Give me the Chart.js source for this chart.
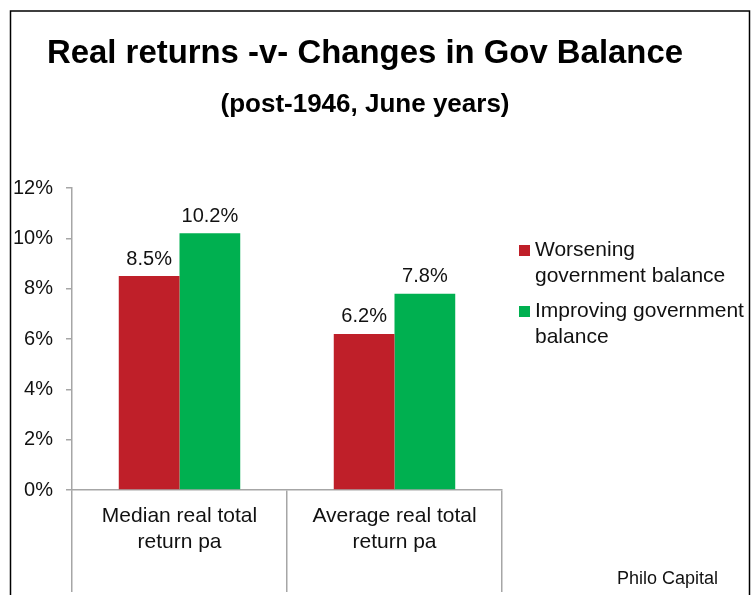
<!DOCTYPE html>
<html>
<head>
<meta charset="utf-8">
<script src="https://cdn.jsdelivr.net/npm/chart.js@4"></script>
<style>
    html, body { margin: 0; padding: 0; background: #fff; }
    #wrap { width: 752px; height: 595px; }
</style>
</head>
<body>
<div id="wrap"><canvas id="chart" width="752" height="595"></canvas></div>
<script>
"use strict";

var categories = [["Median real total", "return pa"], ["Average real total", "return pa"]];
var seriesNames = ["Worsening government balance", "Improving government balance"];
var legendLines = [["Worsening", "government balance"], ["Improving government", "balance"]];
var worsening = [8.5, 6.2];
var improving = [10.2, 7.8];
var yTicks = [0, 2, 4, 6, 8, 10, 12];
var titleText = "Real returns -v- Changes in Gov Balance";
var subtitleText = "(post-1946, June years)";
var sourceText = "Philo Capital";

var RED = "#BF1F29";
var GREEN = "#00B050";
var AXIS_COLOR = "#a6a6a6";
var TEXT_COLOR = "#111111";
var FONT = "'Liberation Sans', Arial, sans-serif";

var framePlugin = {
    id: "frame",
    beforeDraw: function(chart) {
        var ctx = chart.ctx;
        ctx.save();
        ctx.strokeStyle = "#000";
        ctx.lineWidth = 1.5;
        ctx.beginPath();
        ctx.moveTo(10.5, 595);
        ctx.lineTo(10.5, 11);
        ctx.lineTo(749.5, 11);
        ctx.lineTo(749.5, 595);
        ctx.stroke();

        ctx.fillStyle = "#000";
        ctx.textAlign = "center";
        ctx.textBaseline = "alphabetic";
        ctx.font = "bold 34px " + FONT;
        ctx.fillText(titleText, 365, 63, 636);
        ctx.font = "bold 26px " + FONT;
        ctx.fillText(subtitleText, 365, 112, 318);

        ctx.fillStyle = TEXT_COLOR;
        ctx.textAlign = "left";
        ctx.font = "18px " + FONT;
        ctx.fillText(sourceText, 617, 584);
        ctx.restore();
    }
};

var valueLabelPlugin = {
    id: "valueLabels",
    afterDatasetsDraw: function(chart) {
        var ctx = chart.ctx;
        ctx.save();
        ctx.fillStyle = TEXT_COLOR;
        ctx.font = "20px " + FONT;
        ctx.textAlign = "center";
        ctx.textBaseline = "bottom";
        chart.data.datasets.forEach(function(ds, i) {
            var meta = chart.getDatasetMeta(i);
            meta.data.forEach(function(bar, j) {
                ctx.fillText(ds.data[j].toFixed(1) + "%", bar.x, bar.y - 7);
            });
        });
        ctx.restore();
    }
};

var legendPlugin = {
    id: "sideLegend",
    afterDraw: function(chart) {
        var ctx = chart.ctx;
        var tops = [250, 311];
        var lineHeight = 26;
        ctx.save();
        ctx.font = "21px " + FONT;
        ctx.textBaseline = "middle";
        ctx.textAlign = "left";
        chart.data.datasets.forEach(function(ds, i) {
            ctx.fillStyle = ds.backgroundColor;
            ctx.fillRect(519, tops[i] - 5, 11, 11);
            ctx.fillStyle = TEXT_COLOR;
            legendLines[i].forEach(function(line, k) {
                ctx.fillText(line, 535, tops[i] + k * lineHeight);
            });
        });
        ctx.restore();
    }
};

var chart = new Chart(document.getElementById("chart"), {
    type: "bar",
    data: {
        labels: categories,
        datasets: [{
            label: seriesNames[0],
            data: worsening,
            backgroundColor: RED,
            borderWidth: 0
        }, {
            label: seriesNames[1],
            data: improving,
            backgroundColor: GREEN,
            borderWidth: 0
        }]
    },
    options: {
        responsive: false,
        animation: false,
        devicePixelRatio: 1,
        categoryPercentage: 0.565,
        barPercentage: 1,
        layout: {
            padding: { left: 0, top: 188, right: 250, bottom: 0 }
        },
        plugins: {
            legend: { display: false },
            title: { display: false },
            tooltip: { enabled: false }
        },
        scales: {
            x: {
                offset: true,
                grid: {
                    display: true,
                    offset: true,
                    drawOnChartArea: false,
                    drawTicks: true,
                    tickLength: 102,
                    color: AXIS_COLOR,
                    lineWidth: 1.5
                },
                border: { display: true, color: AXIS_COLOR, width: 1.5 },
                ticks: {
                    color: TEXT_COLOR,
                    font: { family: FONT, size: 21, lineHeight: 1.24 },
                    padding: -89,
                    maxRotation: 0,
                    autoSkip: false
                },
                afterFit: function(scale) { scale.height = 105; }
            },
            y: {
                min: 0,
                max: 12,
                grid: {
                    drawOnChartArea: false,
                    drawTicks: true,
                    tickLength: 6,
                    color: AXIS_COLOR,
                    lineWidth: 1.5
                },
                border: { display: true, color: AXIS_COLOR, width: 1.5 },
                afterBuildTicks: function(scale) {
                    scale.ticks = yTicks.map(function(v) { return { value: v }; });
                },
                ticks: {
                    color: TEXT_COLOR,
                    font: { family: FONT, size: 20 },
                    padding: 13,
                    callback: function(v) { return v + "%"; }
                },
                afterFit: function(scale) { scale.width = 72; }
            }
        }
    },
    plugins: [framePlugin, valueLabelPlugin, legendPlugin]
});
</script>
</body>
</html>
